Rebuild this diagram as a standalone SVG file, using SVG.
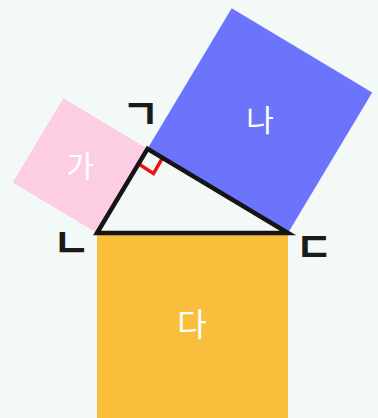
<svg xmlns="http://www.w3.org/2000/svg" width="378" height="418" viewBox="0 0 378 418">
<style>
.lbl{font-family:"Noto Sans CJK KR","Noto Sans",sans-serif;fill:#ffffff;text-anchor:middle;font-size:30px}
.jamo{font-family:"Noto Sans CJK KR","Noto Sans",sans-serif;fill:#1a1a1a;text-anchor:middle;font-size:41px;font-weight:bold}
</style>
<rect x="0" y="0" width="378" height="418" fill="#f3f9f6"/>
<g id="square-ga">
<polygon points="97,233 147.5,148.8 63.3,98.3 12.8,182.5" fill="#fccde3"/>
<text class="lbl" x="80" y="176.5">가</text>
</g>
<g id="square-na">
<polygon points="147.5,148.8 288,233 372.2,92.5 231.7,8.3" fill="#6b74fb"/>
<text class="lbl" x="260" y="131">나</text>
</g>
<g id="square-da">
<rect x="97" y="233" width="191" height="191" fill="#f9be3c"/>
<text class="lbl" x="192" y="336" style="font-size:32px">다</text>
</g>
<g id="right-angle">
<polyline points="138.5,163.8 153.5,173.6 162.5,157.8" fill="none" stroke="#ee1111" stroke-width="3.5"/>
</g>
<g id="triangle">
<polygon points="147.5,148.8 97,233 288,233" fill="none" stroke="#151515" stroke-width="4.5" stroke-linejoin="miter"/>
</g>
<g id="vertex-labels">
<text class="jamo" x="140.5" y="129">ㄱ</text>
<text class="jamo" x="71.5" y="257.5">ㄴ</text>
<text class="jamo" x="314" y="261.5">ㄷ</text>
</g>
</svg>
